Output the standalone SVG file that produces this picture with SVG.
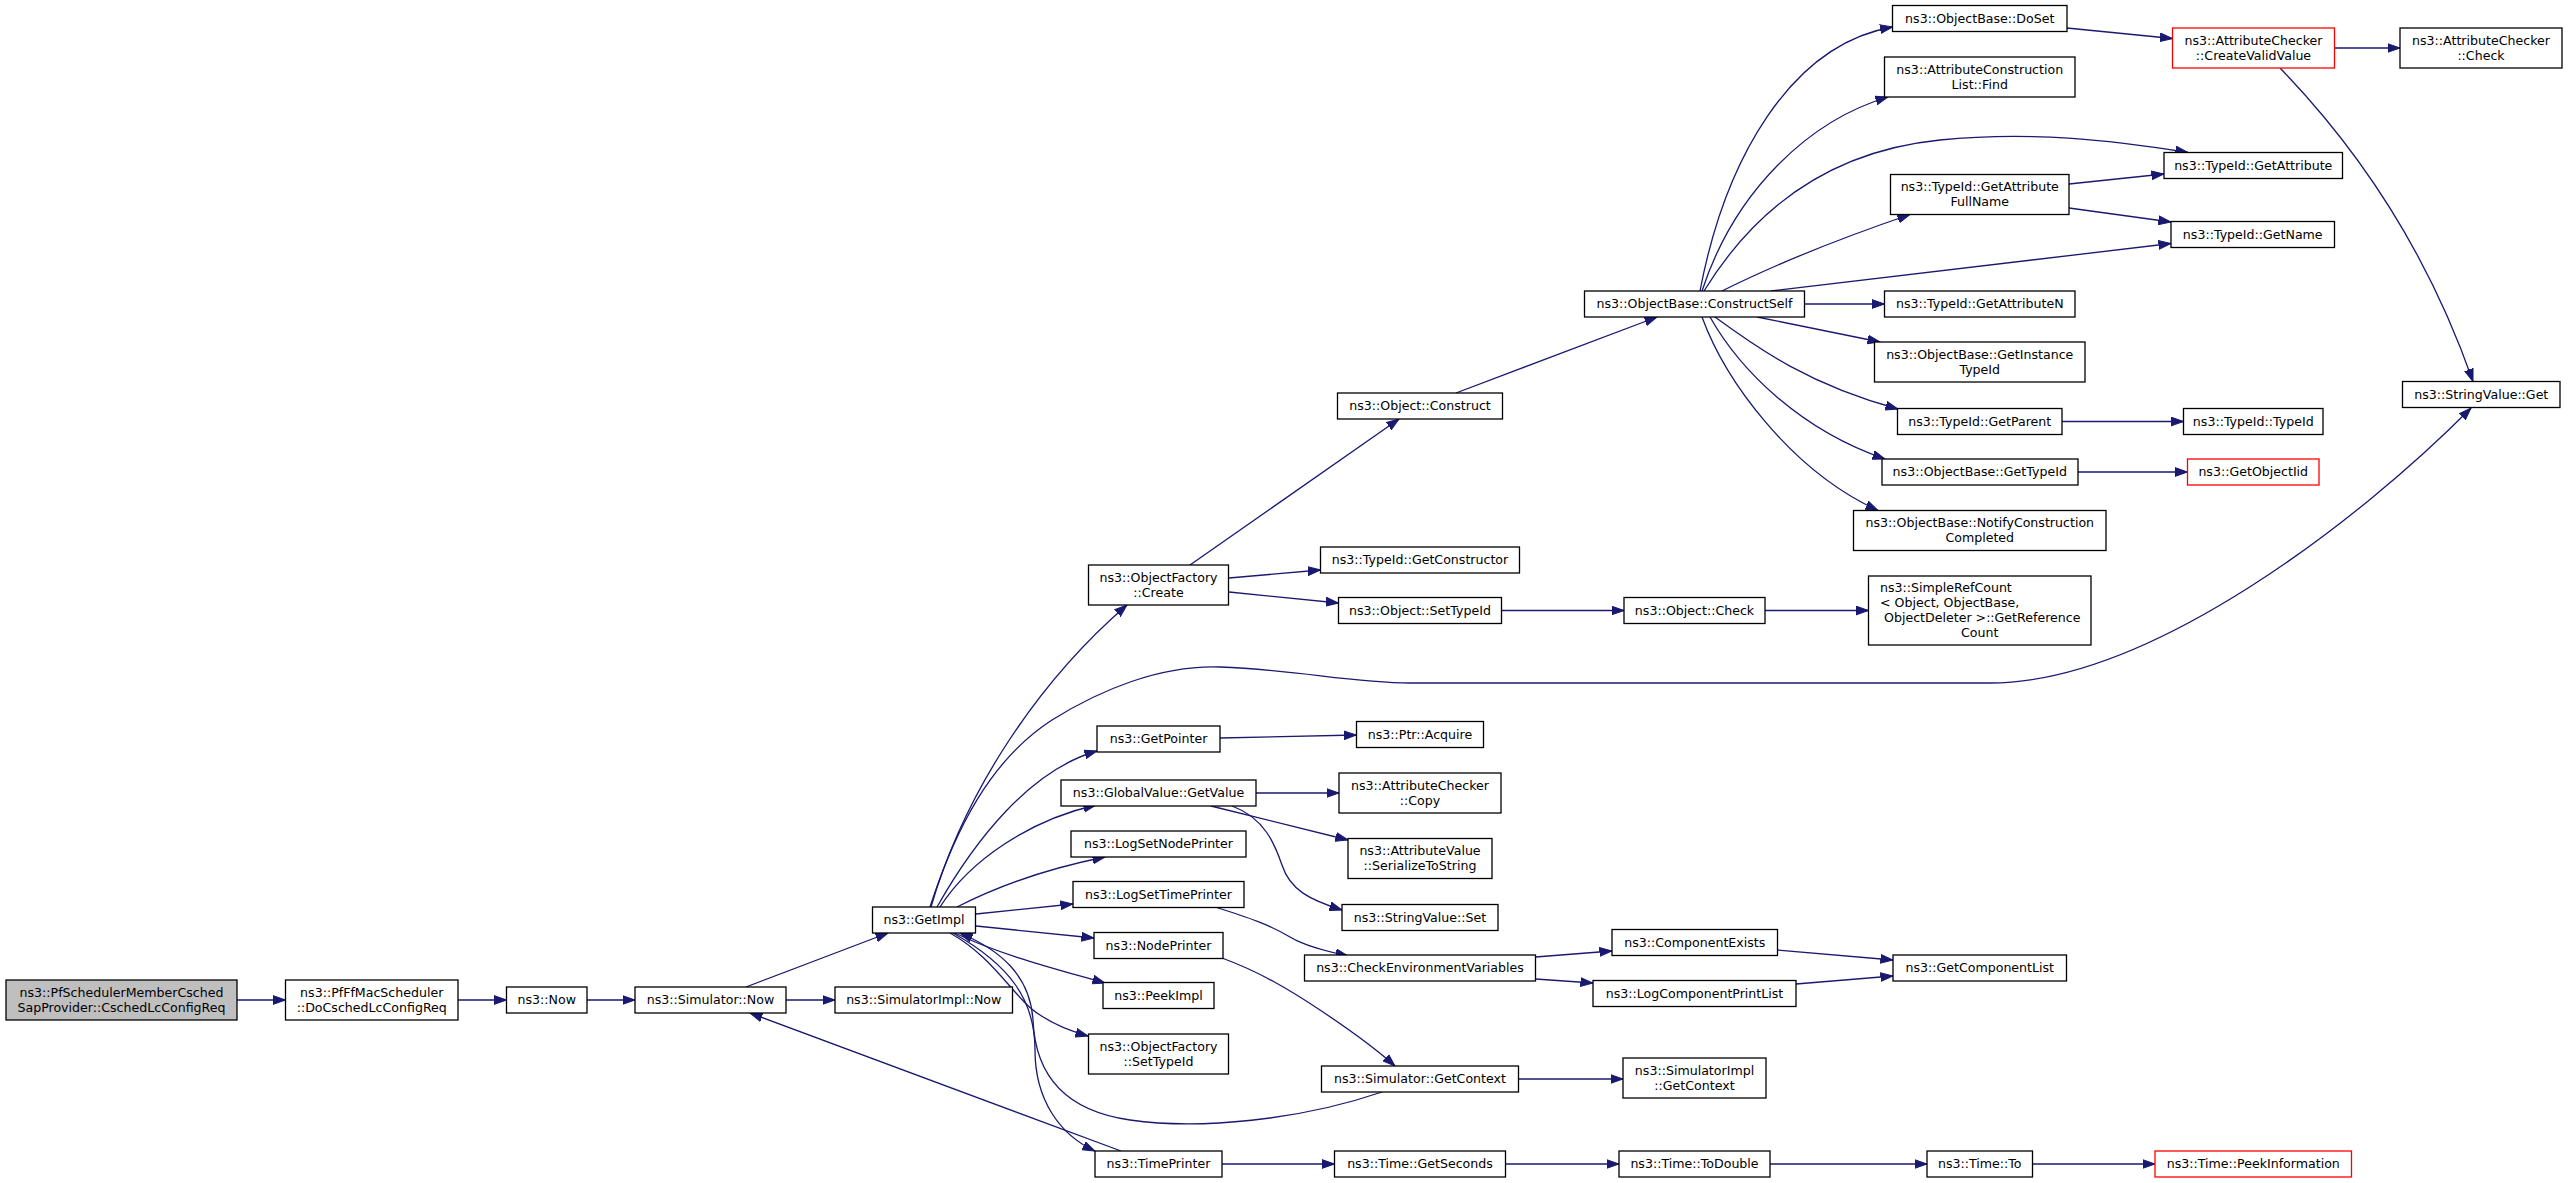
<svg xmlns="http://www.w3.org/2000/svg" width="2568" height="1183" viewBox="0 0 2568 1183">
<style>
.node rect{fill:#ffffff;stroke:#000000;stroke-width:1.3}
.root rect{fill:#bfbfbf}
.red rect{stroke:#ff0000}
.node text{font-family:"DejaVu Sans",sans-serif;font-size:12.6px;fill:#000000;text-anchor:middle}
.node text.l{text-anchor:start}
.edges path{fill:none;stroke:#191970;stroke-width:1.3;marker-end:url(#arr)}
</style>
<defs>
<marker id="arr" markerUnits="userSpaceOnUse" markerWidth="13" markerHeight="10" refX="12.5" refY="5" orient="auto" viewBox="0 0 13 10">
<path d="M0,0.6 L12.5,5 L0,9.4 Z" fill="#191970" stroke="#191970" stroke-width="1"/>
</marker>
</defs>
<rect x="0" y="0" width="2568" height="1183" fill="#ffffff"/>
<g class="edges">
<path d="M237,1000 L285.5,1000"/>
<path d="M458,1000 L506.5,1000"/>
<path d="M587,1000 L635,1000"/>
<path d="M746,987 L888,933"/>
<path d="M786,1000 L835,1000"/>
<path d="M1121,1151 L750,1013"/>
<path d="M931,907 C965,790 1040,680 1127,605"/>
<path d="M930,907 C955,830 990,760 1052,720 C1100,690 1160,665 1220,667 C1300,670 1350,683 1410,683 L1990,683 C2150,683 2360,520 2471,408"/>
<path d="M937,907 C975,840 1030,770 1097,751"/>
<path d="M940,907 C970,860 1030,820 1096,805"/>
<path d="M957,907 C1000,885 1050,868 1105,857"/>
<path d="M976,914 L1073,904"/>
<path d="M976,926 L1094,938"/>
<path d="M955,933 C1000,955 1060,970 1105,983"/>
<path d="M950,933 C995,958 1015,1000 1040,1015 C1055,1025 1070,1031 1088,1036"/>
<path d="M953,933 C1010,965 1035,1000 1035,1050 C1035,1100 1060,1135 1095,1151"/>
<path d="M1382,1092 C1300,1120 1200,1130 1130,1120 C1060,1110 1035,1070 1033,1020 C1030,975 1000,950 960,933"/>
<path d="M1222,1164 L1334.5,1164"/>
<path d="M1190,565 L1399,419"/>
<path d="M1229,578 L1320.5,570"/>
<path d="M1229,592 L1338.5,603"/>
<path d="M1456,393 L1657,317"/>
<path d="M1501.5,610.5 L1624,610.5"/>
<path d="M1765,610.5 L1868.5,610.5"/>
<path d="M1220,738 L1356.5,735"/>
<path d="M1256,793 L1339,793"/>
<path d="M1211,806 L1348,840"/>
<path d="M1232,806 C1265,818 1275,845 1282,865 C1290,890 1310,900 1342,910"/>
<path d="M1215,907 C1250,918 1270,925 1290,937 C1305,946 1325,951 1348,956"/>
<path d="M1222,958 C1260,972 1290,990 1320,1010 C1350,1030 1375,1048 1395,1066"/>
<path d="M1535.5,957 L1612,951"/>
<path d="M1535.5,979 L1593,983"/>
<path d="M1777.5,950 L1893,960"/>
<path d="M1796,984 L1893,976"/>
<path d="M1518.5,1079 L1623,1079"/>
<path d="M1505.5,1164 L1619,1164"/>
<path d="M1770,1164 L1927,1164"/>
<path d="M2032.5,1164 L2155,1164"/>
<path d="M1700,291 C1725,160 1790,45 1892.5,27"/>
<path d="M1702,291 C1735,190 1810,120 1888,97"/>
<path d="M1704,291 C1760,200 1840,150 1940,140 C2030,131 2110,140 2188,152.5"/>
<path d="M1722,291 C1780,262 1850,235 1910,214.5"/>
<path d="M1771,291 L2171,243.5"/>
<path d="M1804.5,304 L1884.5,304"/>
<path d="M1757,317 L1880,342"/>
<path d="M1715,317 C1760,350 1810,385 1898,409"/>
<path d="M1710,317 C1740,370 1800,430 1885,459"/>
<path d="M1702,317 C1725,380 1790,470 1878,510.5"/>
<path d="M2067,28 L2172.5,38.5"/>
<path d="M2334.5,48 L2400,48"/>
<path d="M2280,68 C2340,130 2420,230 2473,381.5"/>
<path d="M2069,184 L2164,174"/>
<path d="M2069,208 L2171,222"/>
<path d="M2062,421.5 L2183.5,421.5"/>
<path d="M2078,472 L2187.5,472"/>
</g>
<g id="n1" class="node root"><rect x="6" y="980" width="231" height="40"/><text x="121.5" y="996.5">ns3::PfSchedulerMemberCsched</text><text x="121.5" y="1011.5">SapProvider::CschedLcConfigReq</text></g>
<g id="n2" class="node"><rect x="285.5" y="980" width="172.5" height="40"/><text x="371.75" y="996.5">ns3::PfFfMacScheduler</text><text x="371.75" y="1011.5">::DoCschedLcConfigReq</text></g>
<g id="n3" class="node"><rect x="506.5" y="987" width="80.5" height="26"/><text x="546.75" y="1004">ns3::Now</text></g>
<g id="n4" class="node"><rect x="635" y="987" width="151" height="26"/><text x="710.5" y="1004">ns3::Simulator::Now</text></g>
<g id="n5" class="node"><rect x="835" y="987" width="177.5" height="26"/><text x="923.75" y="1004">ns3::SimulatorImpl::Now</text></g>
<g id="n6" class="node"><rect x="872.5" y="907" width="103" height="26"/><text x="924" y="924">ns3::GetImpl</text></g>
<g id="n7" class="node"><rect x="1061" y="780" width="195" height="26"/><text x="1158.5" y="797">ns3::GlobalValue::GetValue</text></g>
<g id="n8" class="node"><rect x="1071" y="831" width="175" height="26"/><text x="1158.5" y="848">ns3::LogSetNodePrinter</text></g>
<g id="n9" class="node"><rect x="1073" y="881.5" width="171" height="26"/><text x="1158.5" y="898.5">ns3::LogSetTimePrinter</text></g>
<g id="n10" class="node"><rect x="1094" y="932.5" width="129" height="26"/><text x="1158.5" y="949.5">ns3::NodePrinter</text></g>
<g id="n11" class="node"><rect x="1103" y="982.5" width="111" height="26"/><text x="1158.5" y="999.5">ns3::PeekImpl</text></g>
<g id="n12" class="node"><rect x="1088.5" y="1034" width="140" height="40"/><text x="1158.5" y="1050.5">ns3::ObjectFactory</text><text x="1158.5" y="1065.5">::SetTypeId</text></g>
<g id="n13" class="node"><rect x="1095" y="1151" width="127" height="26"/><text x="1158.5" y="1168">ns3::TimePrinter</text></g>
<g id="n14" class="node"><rect x="1088.5" y="565" width="140" height="40"/><text x="1158.5" y="581.5">ns3::ObjectFactory</text><text x="1158.5" y="596.5">::Create</text></g>
<g id="n15" class="node"><rect x="1097" y="726" width="123" height="26"/><text x="1158.5" y="743">ns3::GetPointer</text></g>
<g id="n16" class="node"><rect x="1337.5" y="393" width="165" height="26"/><text x="1420" y="410">ns3::Object::Construct</text></g>
<g id="n17" class="node"><rect x="1320.5" y="547" width="199" height="26"/><text x="1420" y="564">ns3::TypeId::GetConstructor</text></g>
<g id="n18" class="node"><rect x="1338.5" y="597.5" width="163" height="26"/><text x="1420" y="614.5">ns3::Object::SetTypeId</text></g>
<g id="n19" class="node"><rect x="1624" y="597.5" width="141" height="26"/><text x="1694.5" y="614.5">ns3::Object::Check</text></g>
<g id="n20" class="node"><rect x="1868.5" y="576" width="222.5" height="69"/><text class="l" x="1880" y="592">ns3::SimpleRefCount</text><text class="l" x="1880" y="607">&lt; Object, ObjectBase,</text><text class="l" x="1884" y="622">ObjectDeleter &gt;::GetReference</text><text x="1979.75" y="637">Count</text></g>
<g id="n21" class="node"><rect x="1356.5" y="721.5" width="127" height="26"/><text x="1420" y="738.5">ns3::Ptr::Acquire</text></g>
<g id="n22" class="node"><rect x="1339" y="773" width="162" height="40"/><text x="1420" y="789.5">ns3::AttributeChecker</text><text x="1420" y="804.5">::Copy</text></g>
<g id="n23" class="node"><rect x="1348" y="838.5" width="144" height="40"/><text x="1420" y="855">ns3::AttributeValue</text><text x="1420" y="870">::SerializeToString</text></g>
<g id="n24" class="node"><rect x="1342" y="904.5" width="156" height="26"/><text x="1420" y="921.5">ns3::StringValue::Set</text></g>
<g id="n25" class="node"><rect x="1304.5" y="955" width="231" height="26"/><text x="1420" y="972">ns3::CheckEnvironmentVariables</text></g>
<g id="n26" class="node"><rect x="1321.5" y="1066" width="197" height="26"/><text x="1420" y="1083">ns3::Simulator::GetContext</text></g>
<g id="n27" class="node"><rect x="1334.5" y="1151" width="171" height="26"/><text x="1420" y="1168">ns3::Time::GetSeconds</text></g>
<g id="n28" class="node"><rect x="1612" y="929.5" width="165.5" height="26"/><text x="1694.75" y="946.5">ns3::ComponentExists</text></g>
<g id="n29" class="node"><rect x="1593" y="980.5" width="203" height="26"/><text x="1694.5" y="997.5">ns3::LogComponentPrintList</text></g>
<g id="n30" class="node"><rect x="1623" y="1058" width="143" height="40"/><text x="1694.5" y="1074.5">ns3::SimulatorImpl</text><text x="1694.5" y="1089.5">::GetContext</text></g>
<g id="n31" class="node"><rect x="1619" y="1151" width="151" height="26"/><text x="1694.5" y="1168">ns3::Time::ToDouble</text></g>
<g id="n32" class="node"><rect x="1893" y="955" width="173.5" height="26"/><text x="1979.75" y="972">ns3::GetComponentList</text></g>
<g id="n33" class="node"><rect x="1927" y="1151" width="105.5" height="26"/><text x="1979.75" y="1168">ns3::Time::To</text></g>
<g id="n34" class="node red"><rect x="2155" y="1151" width="196.5" height="26"/><text x="2253.25" y="1168">ns3::Time::PeekInformation</text></g>
<g id="n35" class="node"><rect x="1584.5" y="291" width="220" height="26"/><text x="1694.5" y="308">ns3::ObjectBase::ConstructSelf</text></g>
<g id="n36" class="node"><rect x="1892.5" y="5.5" width="174.5" height="26"/><text x="1979.75" y="22.5">ns3::ObjectBase::DoSet</text></g>
<g id="n37" class="node"><rect x="1884.5" y="57" width="190.5" height="40"/><text x="1979.75" y="73.5">ns3::AttributeConstruction</text><text x="1979.75" y="88.5">List::Find</text></g>
<g id="n38" class="node"><rect x="1890.5" y="174.5" width="178.5" height="40"/><text x="1979.75" y="191">ns3::TypeId::GetAttribute</text><text x="1979.75" y="206">FullName</text></g>
<g id="n39" class="node"><rect x="1884.5" y="291" width="190.5" height="26"/><text x="1979.75" y="308">ns3::TypeId::GetAttributeN</text></g>
<g id="n40" class="node"><rect x="1874.5" y="342" width="210.5" height="40"/><text x="1979.75" y="358.5">ns3::ObjectBase::GetInstance</text><text x="1979.75" y="373.5">TypeId</text></g>
<g id="n41" class="node"><rect x="1897.5" y="408.5" width="164.5" height="26"/><text x="1979.75" y="425.5">ns3::TypeId::GetParent</text></g>
<g id="n42" class="node"><rect x="1882" y="459" width="196" height="26"/><text x="1979.75" y="476">ns3::ObjectBase::GetTypeId</text></g>
<g id="n43" class="node"><rect x="1853.5" y="510.5" width="252.5" height="40"/><text x="1979.75" y="527">ns3::ObjectBase::NotifyConstruction</text><text x="1979.75" y="542">Completed</text></g>
<g id="n44" class="node"><rect x="2183.5" y="408.5" width="139.5" height="26"/><text x="2253.25" y="425.5">ns3::TypeId::TypeId</text></g>
<g id="n45" class="node red"><rect x="2187.5" y="459" width="131.5" height="26"/><text x="2253.25" y="476">ns3::GetObjectIid</text></g>
<g id="n46" class="node red"><rect x="2172.5" y="28" width="162" height="40"/><text x="2253.5" y="44.5">ns3::AttributeChecker</text><text x="2253.5" y="59.5">::CreateValidValue</text></g>
<g id="n47" class="node"><rect x="2400" y="28" width="162" height="40"/><text x="2481" y="44.5">ns3::AttributeChecker</text><text x="2481" y="59.5">::Check</text></g>
<g id="n48" class="node"><rect x="2164" y="152.5" width="178.5" height="26"/><text x="2253.25" y="169.5">ns3::TypeId::GetAttribute</text></g>
<g id="n49" class="node"><rect x="2171" y="221.5" width="163.5" height="26"/><text x="2252.75" y="238.5">ns3::TypeId::GetName</text></g>
<g id="n50" class="node"><rect x="2402.5" y="381.5" width="157.5" height="26"/><text x="2481.25" y="398.5">ns3::StringValue::Get</text></g>
</svg>
